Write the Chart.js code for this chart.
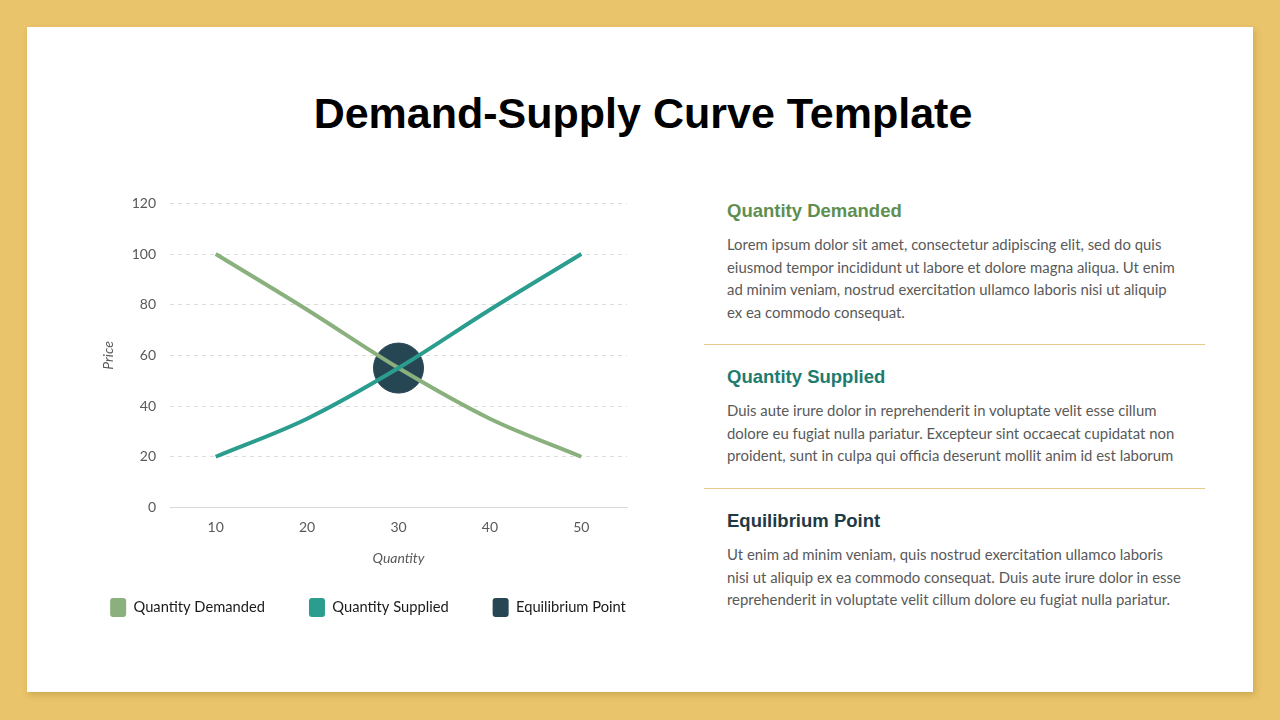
<!DOCTYPE html>
<html>
<head>
<meta charset="utf-8">
<script src="https://cdn.jsdelivr.net/npm/chart.js@4"></script>
<style>
  html, body { margin: 0; padding: 0; }
  body { width: 1280px; height: 720px; background: #E9C46A; position: relative; overflow: hidden; font-family: Lato, sans-serif; }
  .panel { position: absolute; left: 27px; top: 27px; width: 1226px; height: 665px; background: #fff; box-shadow: 2px 3px 6px rgba(120, 90, 20, 0.25); }
  h1 { position: absolute; left: 0; width: 1286px; top: 89px; margin: 0; text-align: center; font: bold 43px "Liberation Sans", Arial, sans-serif; color: #000; }
  .chartBox { position: absolute; left: 65px; top: 181px; width: 606px; height: 446px; }
  .side { position: absolute; left: 727px; width: 480px; }
  .side h2 { margin: 0; font: bold 18.5px "Liberation Sans", Arial, sans-serif; }
  .side p { margin: 0; font-size: 14.9px; line-height: 22.7px; color: #595959; }
  .rule { position: absolute; left: 704px; width: 501px; height: 1px; background: #E9C98A; }
</style>
</head>
<body>
<div class="panel"></div>
<h1>Demand-Supply Curve Template</h1>
<div class="chartBox"><canvas id="curveChart"></canvas></div>

<div class="side" style="top:200px">
  <h2 style="color:#5E8F50">Quantity Demanded</h2>
  <p style="margin-top:11px">Lorem ipsum dolor sit amet, consectetur adipiscing elit, sed do quis<br>eiusmod tempor incididunt ut labore et dolore magna aliqua. Ut enim<br>ad minim veniam, nostrud exercitation ullamco laboris nisi ut aliquip<br>ex ea commodo consequat.</p>
</div>
<div class="rule" style="top:344px"></div>
<div class="side" style="top:366px">
  <h2 style="color:#1E7B6E">Quantity Supplied</h2>
  <p style="margin-top:11px">Duis aute irure dolor in reprehenderit in voluptate velit esse cillum<br>dolore eu fugiat nulla pariatur. Excepteur sint occaecat cupidatat non<br>proident, sunt in culpa qui officia deserunt mollit anim id est laborum</p>
</div>
<div class="rule" style="top:488px"></div>
<div class="side" style="top:510px">
  <h2 style="color:#1F3A45">Equilibrium Point</h2>
  <p style="margin-top:11px">Ut enim ad minim veniam, quis nostrud exercitation ullamco laboris<br>nisi ut aliquip ex ea commodo consequat. Duis aute irure dolor in esse<br>reprehenderit in voluptate velit cillum dolore eu fugiat nulla pariatur.</p>
</div>

<script>
  // quantities on the x axis
  const quantities = ["10", "20", "30", "40", "50"];
  // price values
  const demanded = [100, 78, 55, 35, 20];
  const supplied = [20, 35, 55, 78, 100];
  const equilibrium = [null, null, 55, null, null];

  const tickFont = { family: "Lato", size: 14 };

  new Chart(document.getElementById("curveChart"), {
    type: "line",
    data: {
      labels: quantities,
      datasets: [{
        label: "Quantity Demanded",
        data: demanded,
        borderColor: "#8AB17D",
        backgroundColor: "#8AB17D",
        borderWidth: 4,
        pointRadius: 0,
        tension: 0.35,
        order: 1
      }, {
        label: "Quantity Supplied",
        data: supplied,
        borderColor: "#2A9D8F",
        backgroundColor: "#2A9D8F",
        borderWidth: 4,
        pointRadius: 0,
        tension: 0.35,
        order: 0
      }, {
        label: "Equilibrium Point",
        data: equilibrium,
        showLine: false,
        borderColor: "#264653",
        backgroundColor: "#264653",
        pointRadius: 25,
        pointHoverRadius: 25,
        order: 5
      }]
    },
    options: {
      responsive: true,
      maintainAspectRatio: false,
      animation: false,
      layout: { autoPadding: false, padding: { top: 10, right: 0, left: 0, bottom: 0 } },
      plugins: {
        tooltip: { enabled: false },
        legend: {
          position: "bottom",
          labels: {
            color: "#1a1a1a",
            font: { family: "Lato", size: 14.7 },
            boxWidth: 16,
            boxHeight: 19,
            padding: 44,
            useBorderRadius: true,
            borderRadius: 3,
            sort: (a, b) => a.datasetIndex - b.datasetIndex,
            generateLabels(chart) {
              return Chart.defaults.plugins.legend.labels.generateLabels(chart).map(item => {
                item.lineWidth = 0;
                item.strokeStyle = item.fillStyle;
                return item;
              });
            }
          }
        }
      },
      scales: {
        x: {
          offset: true,
          grid: { display: false },
          border: { display: true, color: "#d9d9d9" },
          ticks: { color: "#595959", font: tickFont, padding: 4 },
          // negative bottom padding eats into the legend's wide top padding
          title: { display: true, text: "Quantity", color: "#595959", font: { family: "Lato", size: 14, style: "italic" }, padding: { top: 10, bottom: -13 } }
        },
        y: {
          min: 0,
          max: 120,
          afterFit(scale) { scale.width = 105; },
          ticks: { stepSize: 20, color: "#595959", font: tickFont, padding: 14 },
          grid: { color: "#dcdcdc", drawTicks: false },
          border: { display: false, dash: [4, 4] },
          title: { display: true, text: "Price", color: "#595959", font: { family: "Lato", size: 14, style: "italic" }, padding: { top: 35, bottom: 4 } }
        },
        // empty right-hand axis, only reserves room so the legend row can spread out
        yRight: {
          position: "right",
          display: true,
          afterFit(scale) { scale.width = 44; },
          grid: { display: false },
          border: { display: false },
          ticks: { display: false }
        }
      }
    }
  });
</script>
</body>
</html>
